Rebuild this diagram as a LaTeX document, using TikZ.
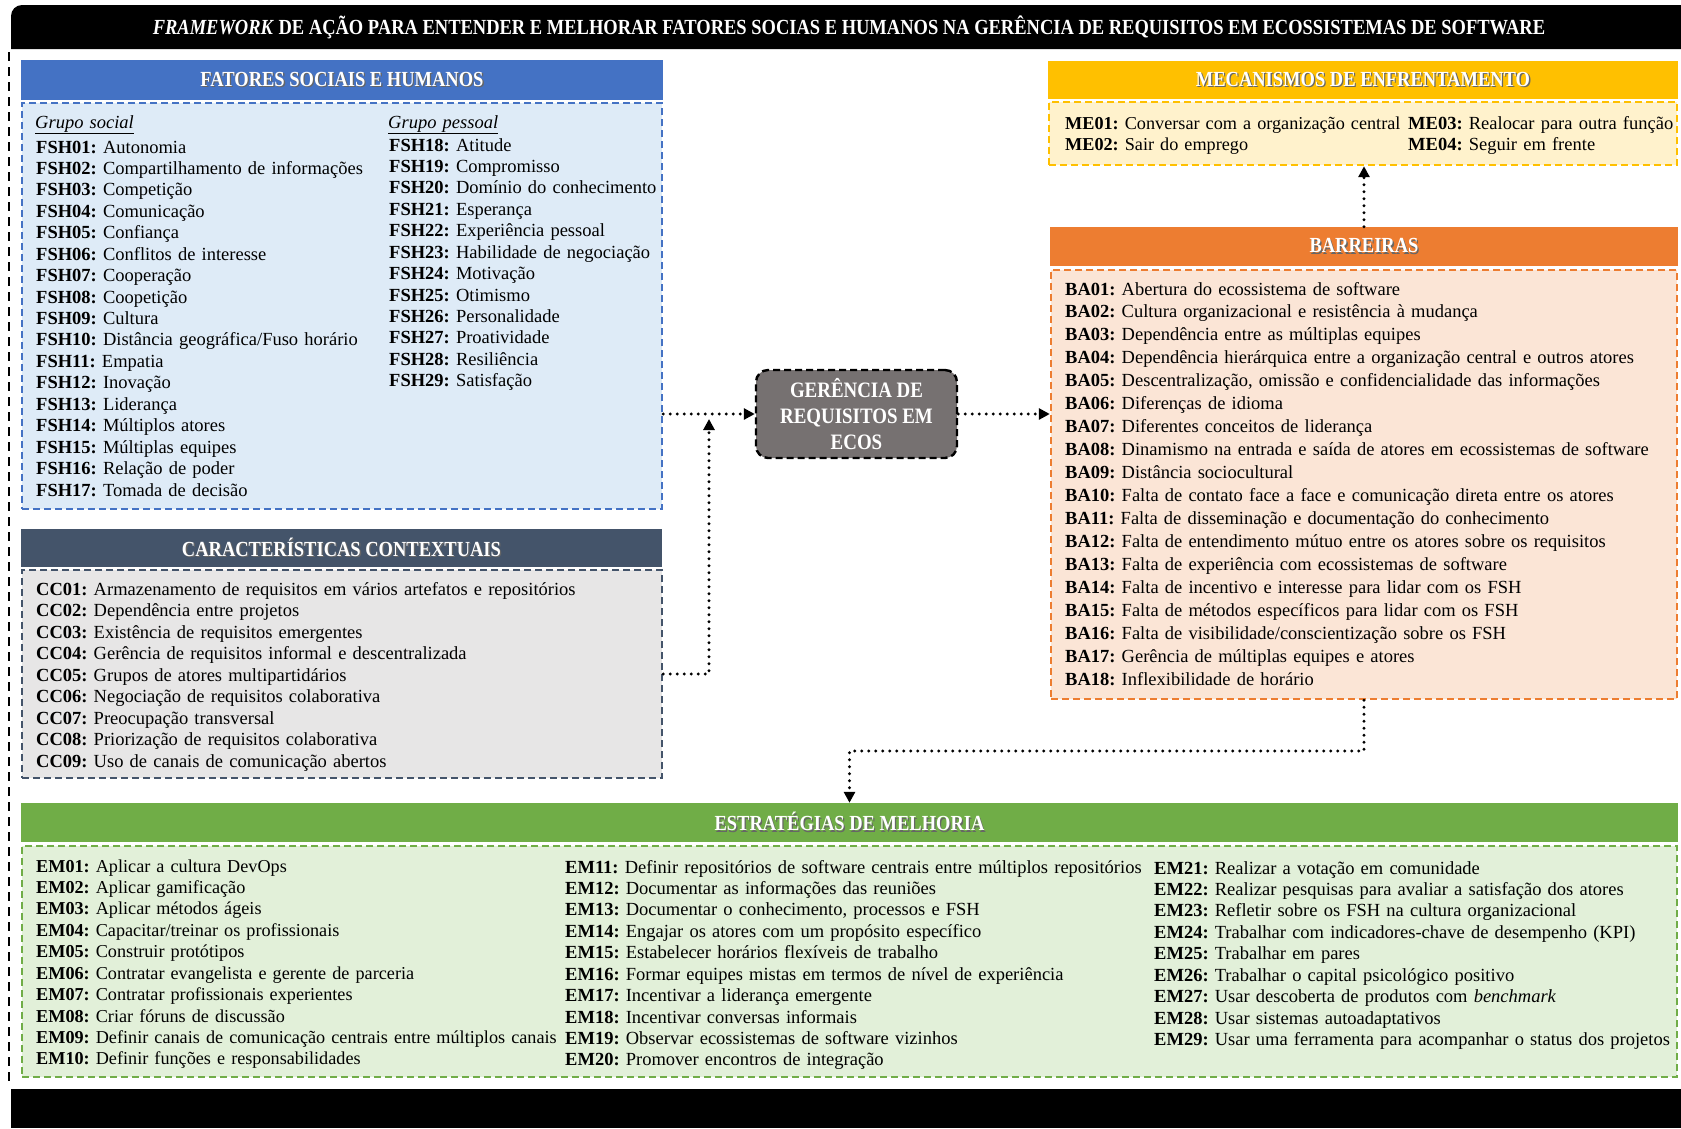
\documentclass[tikz,border=0pt]{standalone}
\usepackage{fontspec}
\setmainfont{Liberation Serif}
\newfontfamily\headfont[FakeStretch=0.86]{Liberation Serif}
\usetikzlibrary{arrows.meta}

\definecolor{fshH}{HTML}{4472C4}
\definecolor{fshB}{HTML}{DEEBF7}
\definecolor{ccH}{HTML}{44546A}
\definecolor{ccB}{HTML}{E7E6E6}
\definecolor{meH}{HTML}{FFC000}
\definecolor{meB}{HTML}{FFF2CC}
\definecolor{baH}{HTML}{ED7D31}
\definecolor{baB}{HTML}{FBE5D6}
\definecolor{emH}{HTML}{70AD47}
\definecolor{emB}{HTML}{E2F0D9}
\definecolor{coreC}{HTML}{767171}

% header text with a soft drop shadow
\newcommand\shadowed[1]{\leavevmode\rlap{\kern1.3pt\raisebox{-1.3pt}{\color{black!60}#1}}#1}
\newcommand\codeitem[2]{\textbf{#1:} #2}

\begin{document}
\frenchspacing
\begin{tikzpicture}[x=1pt,y=-1pt,
  hdr/.style={fill=#1, inner sep=0pt, text=white,
    font=\headfont\bfseries\fontsize{21.5}{25}\selectfont},
  panel/.style n args={2}{draw=#1, fill=#2, line width=2.4pt,
    dash pattern=on 7pt off 4pt, inner sep=0pt},
  listtext/.style={anchor=base west, inner sep=0pt, text width=760pt, align=left,
    font=\fontsize{18.5}{21.44}\selectfont},
  flow/.style={line width=3.2pt, dash pattern=on 0pt off 7pt, line cap=round,
    -{Triangle[length=11pt,width=11pt]}}
]
\useasboundingbox (0,0) rectangle (1681,1128);

% title and footer bars
\fill[black] (11,49) [rounded corners=11pt] -- (11,5) [sharp corners] -- (1681,5) -- (1681,49) -- cycle;
\fill[black] (11,1089) rectangle (1681,1128);
\node[text=white, inner sep=0pt, font=\headfont\bfseries\fontsize{21.5}{25}\selectfont] (title) at (849,27)
  {\textit{FRAMEWORK} DE AÇÃO PARA ENTENDER E MELHORAR FATORES SOCIAS E HUMANOS NA GERÊNCIA DE REQUISITOS EM ECOSSISTEMAS DE SOFTWARE};

% left frame line
\draw[line width=2.8pt, dash pattern=on 9pt off 6pt] (9,52) -- (9,1086);

% ---------- Fatores sociais e humanos ----------
\node[hdr=fshH, minimum width=642pt, minimum height=40pt] (fshHd) at (342,80) {\shadowed{FATORES SOCIAIS E HUMANOS}};
\node[panel={fshH}{fshB}, minimum width=640pt, minimum height=406pt] (fsh) at (342,306) {};
\node[listtext, font=\itshape\fontsize{18.5}{21.44}\selectfont] (gsoc) at (35,128) {\underline{Grupo social}};
\node[listtext, font=\itshape\fontsize{18.5}{21.44}\selectfont] (gpes) at (388,128) {\underline{Grupo pessoal}};
\node[listtext] (fshA) at (36,153) {%
\codeitem{FSH01}{Autonomia}\\
\codeitem{FSH02}{Compartilhamento de informações}\\
\codeitem{FSH03}{Competição}\\
\codeitem{FSH04}{Comunicação}\\
\codeitem{FSH05}{Confiança}\\
\codeitem{FSH06}{Conflitos de interesse}\\
\codeitem{FSH07}{Cooperação}\\
\codeitem{FSH08}{Coopetição}\\
\codeitem{FSH09}{Cultura}\\
\codeitem{FSH10}{Distância geográfica/Fuso horário}\\
\codeitem{FSH11}{Empatia}\\
\codeitem{FSH12}{Inovação}\\
\codeitem{FSH13}{Liderança}\\
\codeitem{FSH14}{Múltiplos atores}\\
\codeitem{FSH15}{Múltiplas equipes}\\
\codeitem{FSH16}{Relação de poder}\\
\codeitem{FSH17}{Tomada de decisão}};
\node[listtext] (fshB) at (389,151) {%
\codeitem{FSH18}{Atitude}\\
\codeitem{FSH19}{Compromisso}\\
\codeitem{FSH20}{Domínio do conhecimento}\\
\codeitem{FSH21}{Esperança}\\
\codeitem{FSH22}{Experiência pessoal}\\
\codeitem{FSH23}{Habilidade de negociação}\\
\codeitem{FSH24}{Motivação}\\
\codeitem{FSH25}{Otimismo}\\
\codeitem{FSH26}{Personalidade}\\
\codeitem{FSH27}{Proatividade}\\
\codeitem{FSH28}{Resiliência}\\
\codeitem{FSH29}{Satisfação}};

% ---------- Caracteristicas contextuais ----------
\node[hdr=ccH, minimum width=641pt, minimum height=38pt] (ccHd) at (341.5,548) {\shadowed{CARACTERÍSTICAS CONTEXTUAIS}};
\node[panel={ccH}{ccB}, minimum width=640pt, minimum height=208pt] (cc) at (342,674) {};
\node[listtext] (ccL) at (36,595.5) {%
\codeitem{CC01}{Armazenamento de requisitos em vários artefatos e repositórios}\\
\codeitem{CC02}{Dependência entre projetos}\\
\codeitem{CC03}{Existência de requisitos emergentes}\\
\codeitem{CC04}{Gerência de requisitos informal e descentralizada}\\
\codeitem{CC05}{Grupos de atores multipartidários}\\
\codeitem{CC06}{Negociação de requisitos colaborativa}\\
\codeitem{CC07}{Preocupação transversal}\\
\codeitem{CC08}{Priorização de requisitos colaborativa}\\
\codeitem{CC09}{Uso de canais de comunicação abertos}};

% ---------- central node ----------
\node[draw=black, fill=coreC, line width=2.4pt, dash pattern=on 7pt off 4pt,
  rounded corners=12pt, minimum width=201pt, minimum height=88pt, inner sep=0pt,
  text=white, align=center, font=\headfont\bfseries\fontsize{22}{25.7}\selectfont]
  (core) at (856.5,414) {GERÊNCIA DE\\REQUISITOS EM\\ECOS};

% ---------- Mecanismos de enfrentamento ----------
\node[hdr=meH, minimum width=630pt, minimum height=38pt] (meHd) at (1363,80) {\shadowed{MECANISMOS DE ENFRENTAMENTO}};
\node[panel={meH}{meB}, minimum width=628pt, minimum height=63pt] (me) at (1363,133.5) {};
\node[listtext, font=\fontsize{18.2}{21.44}\selectfont] (meA) at (1065,129) {%
\codeitem{ME01}{Conversar com a organização central}\\
\codeitem{ME02}{Sair do emprego}};
\node[listtext] (meBl) at (1408,129) {%
\codeitem{ME03}{Realocar para outra função}\\
\codeitem{ME04}{Seguir em frente}};

% ---------- Barreiras ----------
\node[hdr=baH, minimum width=628pt, minimum height=39pt] (baHd) at (1364,246.5) {\shadowed{BARREIRAS}};
\node[panel={baH}{baB}, minimum width=626pt, minimum height=429pt] (ba) at (1364,484.5) {};
\node[listtext, font=\fontsize{18.5}{22.97}\selectfont] (baL) at (1065,295) {%
\codeitem{BA01}{Abertura do ecossistema de software}\\
\codeitem{BA02}{Cultura organizacional e resistência à mudança}\\
\codeitem{BA03}{Dependência entre as múltiplas equipes}\\
\codeitem{BA04}{Dependência hierárquica entre a organização central e outros atores}\\
\codeitem{BA05}{Descentralização, omissão e confidencialidade das informações}\\
\codeitem{BA06}{Diferenças de idioma}\\
\codeitem{BA07}{Diferentes conceitos de liderança}\\
\codeitem{BA08}{Dinamismo na entrada e saída de atores em ecossistemas de software}\\
\codeitem{BA09}{Distância sociocultural}\\
\codeitem{BA10}{Falta de contato face a face e comunicação direta entre os atores}\\
\codeitem{BA11}{Falta de disseminação e documentação do conhecimento}\\
\codeitem{BA12}{Falta de entendimento mútuo entre os atores sobre os requisitos}\\
\codeitem{BA13}{Falta de experiência com ecossistemas de software}\\
\codeitem{BA14}{Falta de incentivo e interesse para lidar com os FSH}\\
\codeitem{BA15}{Falta de métodos específicos para lidar com os FSH}\\
\codeitem{BA16}{Falta de visibilidade/conscientização sobre os FSH}\\
\codeitem{BA17}{Gerência de múltiplas equipes e atores}\\
\codeitem{BA18}{Inflexibilidade de horário}};

% ---------- Estrategias de melhoria ----------
\node[hdr=emH, minimum width=1657pt, minimum height=39pt] (emHd) at (849.5,822.5) {\shadowed{ESTRATÉGIAS DE MELHORIA}};
\node[panel={emH}{emB}, minimum width=1655pt, minimum height=231pt] (em) at (849.5,961.5) {};
\node[listtext, font=\fontsize{18.2}{21.44}\selectfont] (emA) at (36,872) {%
\codeitem{EM01}{Aplicar a cultura DevOps}\\
\codeitem{EM02}{Aplicar gamificação}\\
\codeitem{EM03}{Aplicar métodos ágeis}\\
\codeitem{EM04}{Capacitar/treinar os profissionais}\\
\codeitem{EM05}{Construir protótipos}\\
\codeitem{EM06}{Contratar evangelista e gerente de parceria}\\
\codeitem{EM07}{Contratar profissionais experientes}\\
\codeitem{EM08}{Criar fóruns de discussão}\\
\codeitem{EM09}{Definir canais de comunicação centrais entre múltiplos canais}\\
\codeitem{EM10}{Definir funções e responsabilidades}};
\node[listtext] (emBl) at (565,873) {%
\codeitem{EM11}{Definir repositórios de software centrais entre múltiplos repositórios}\\
\codeitem{EM12}{Documentar as informações das reuniões}\\
\codeitem{EM13}{Documentar o conhecimento, processos e FSH}\\
\codeitem{EM14}{Engajar os atores com um propósito específico}\\
\codeitem{EM15}{Estabelecer horários flexíveis de trabalho}\\
\codeitem{EM16}{Formar equipes mistas em termos de nível de experiência}\\
\codeitem{EM17}{Incentivar a liderança emergente}\\
\codeitem{EM18}{Incentivar conversas informais}\\
\codeitem{EM19}{Observar ecossistemas de software vizinhos}\\
\codeitem{EM20}{Promover encontros de integração}};
\node[listtext] (emC) at (1154,874) {%
\codeitem{EM21}{Realizar a votação em comunidade}\\
\codeitem{EM22}{Realizar pesquisas para avaliar a satisfação dos atores}\\
\codeitem{EM23}{Refletir sobre os FSH na cultura organizacional}\\
\codeitem{EM24}{Trabalhar com indicadores-chave de desempenho (KPI)}\\
\codeitem{EM25}{Trabalhar em pares}\\
\codeitem{EM26}{Trabalhar o capital psicológico positivo}\\
\codeitem{EM27}{Usar descoberta de produtos com \textit{benchmark}}\\
\codeitem{EM28}{Usar sistemas autoadaptativos}\\
\codeitem{EM29}{Usar uma ferramenta para acompanhar o status dos projetos}};

% ---------- connectors ----------
\coordinate (ccJoin) at (709,419);
\coordinate (emRow) at (0,751);
\draw[flow] (fsh.east |- core.west) -- (core.west);
\draw[flow] (cc.east) -| (ccJoin);
\draw[flow] (core.east) -- (core.east -| ba.west);
\draw[flow] (baHd.north) -- (baHd.north |- me.south);
\draw[flow] (ba.south) -- (ba.south |- emRow) -- (emHd.north |- emRow) -- (emHd.north);
\end{tikzpicture}
\end{document}
